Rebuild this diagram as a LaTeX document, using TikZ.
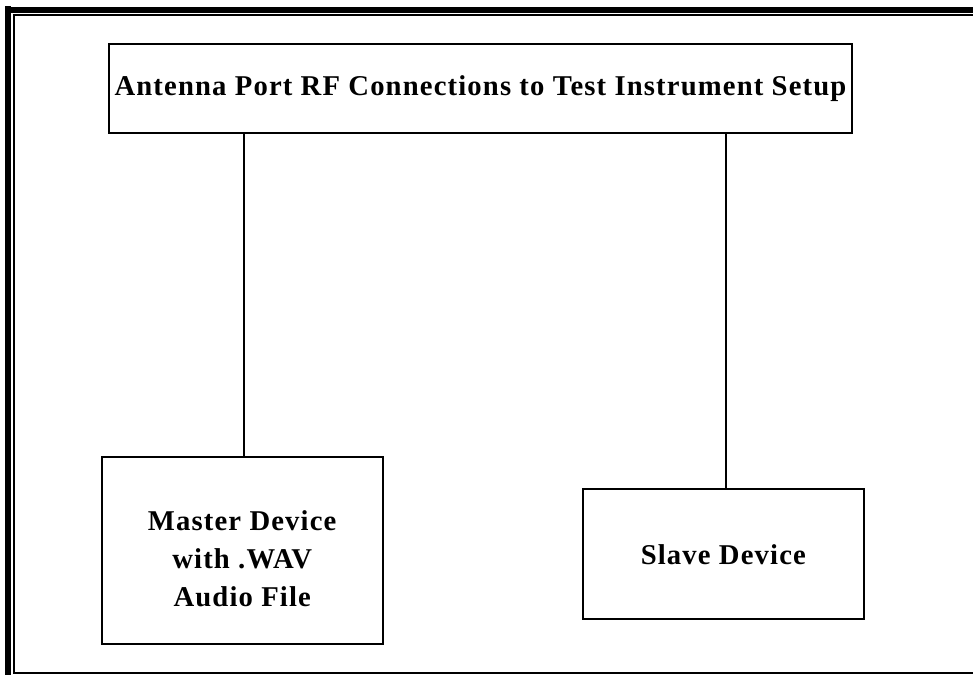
\documentclass[tikz,border=0pt]{standalone}
\usepackage{fontspec}
\setmainfont{Liberation Serif}[LetterSpace=4]
\begin{document}
\begin{tikzpicture}[x=0.75pt,y=-0.75pt,
  box/.style={draw,line width=1.5pt,inner sep=0pt,align=center,
    font=\fontsize{21.5}{28.5}\selectfont\bfseries},
  lbl/.style={inner sep=0pt,align=center,
    font=\fontsize{21.5}{28.5}\selectfont\bfseries},
  conn/.style={line width=1.5pt},
  thickframe/.style={line width=4.5pt},
  thinframe/.style={line width=1.5pt}]
\useasboundingbox (0,0) rectangle (973,675);
% frame
\draw[thickframe] (8,6) -- (8,675);
\draw[thickframe] (5.75,9.5) -- (973,9.5);
\draw[thinframe] (973,14.7) -- (14,14.7) -- (14,673) -- (973,673);
% nodes
\node[box,minimum width=557.25pt,minimum height=66.75pt] (title) at (480.5,88.3)
  {Antenna Port RF Connections to Test Instrument Setup};
\node[box,minimum width=210.75pt,minimum height=140.25pt] (master) at (242.2,550.7) {};
\node[lbl] (mastertext) at ([yshift=-6pt]master.center)
  {Master Device\\with .WAV\\Audio File};
\node[box,minimum width=211pt,minimum height=97.3pt] (slave) at (723.3,554.2)
  {Slave Device};
\coordinate (c1) at (244,0);
\coordinate (c2) at (725.7,0);
\draw[conn] (title.south -| c1) -- (master.north -| c1);
\draw[conn] (title.south -| c2) -- (slave.north -| c2);
\end{tikzpicture}
\end{document}
